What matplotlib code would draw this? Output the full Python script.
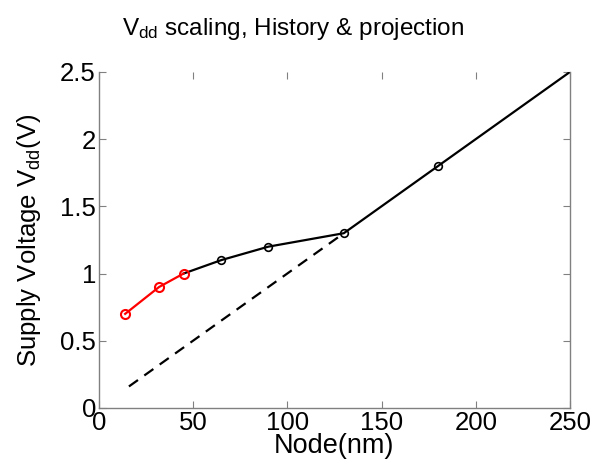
import matplotlib
matplotlib.use("Agg")
import matplotlib.pyplot as plt

# historical nodes (nm) and supply voltage (V)
hist_nodes = [45, 65, 90, 130, 180, 250]
hist_vdd = [1.0, 1.1, 1.2, 1.3, 1.8, 2.5]

# recent / projected nodes
proj_nodes = [14, 32, 45]
proj_vdd = [0.7, 0.9, 1.0]

# constant-field scaling trend
trend_nodes = [16, 130]
trend_vdd = [0.16, 1.3]

plt.rcParams["font.family"] = ["Liberation Sans", "DejaVu Sans"]
plt.rcParams["mathtext.fontset"] = "custom"
plt.rcParams["mathtext.rm"] = "Liberation Sans"
plt.rcParams["mathtext.it"] = "Liberation Sans"


def main():
    fig = plt.figure(figsize=(5.95, 4.70), dpi=100)
    ax = fig.add_axes([0.166, 0.132, 0.792, 0.715])

    ax.plot(trend_nodes, trend_vdd, "k--", lw=1.6, dashes=(5, 3.5))
    ax.plot(hist_nodes, hist_vdd, color="black", lw=1.6)
    # circles on 65..180, 45 belongs to the red series
    ax.plot(hist_nodes[1:5], hist_vdd[1:5], "o",
            mfc="none", mec="black", ms=5.5, mew=1.2)
    ax.plot(proj_nodes, proj_vdd, "-o", color="red", lw=1.6,
            mfc="none", mec="red", ms=6.5, mew=1.5)

    ax.set_xlim(0, 250)
    ax.set_ylim(0, 2.5)
    ax.set_xticks([0, 50, 100, 150, 200, 250])
    ax.set_yticks([0, 0.5, 1, 1.5, 2, 2.5])
    ax.set_yticklabels(["0", "0.5", "1", "1.5", "2", "2.5"])

    for s in ax.spines.values():
        s.set_color("#808080")
        s.set_linewidth(1.0)
    ax.spines["top"].set_visible(False)
    ax.tick_params(direction="in", top=True, right=True, length=5,
                   color="#808080", labelsize=18.5, labelcolor="black", pad=2)

    ax.set_xlabel("Node(nm)", fontsize=19.5, labelpad=-1)
    ax.set_ylabel(r"Supply Voltage V$_{\mathrm{dd}}$(V)", fontsize=18.5, labelpad=12)
    fig.text(0.493, 0.925, r"V$_{\mathrm{dd}}$ scaling, History & projection",
             fontsize=17.5, ha="center", va="baseline")

    fig.savefig("out.png", dpi=100)
    plt.close(fig)


if __name__ == "__main__":
    main()
